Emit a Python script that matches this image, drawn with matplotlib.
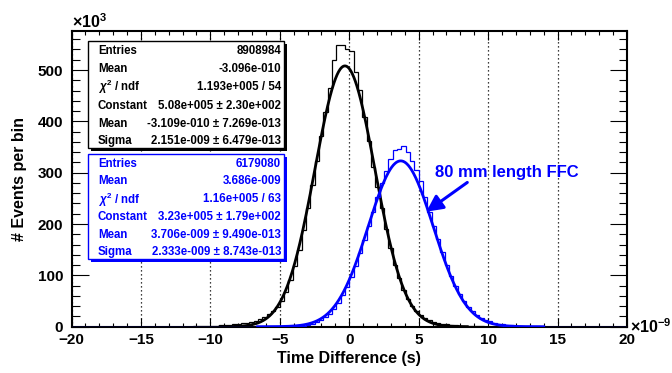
import numpy as np
import matplotlib
matplotlib.use("Agg")
import matplotlib.pyplot as plt
from matplotlib.patches import Rectangle
from matplotlib.ticker import MultipleLocator

plt.rcParams['font.family'] = ['Liberation Sans', 'DejaVu Sans']
plt.rcParams['font.weight'] = 'bold'
plt.rcParams['mathtext.fontset'] = 'custom'
plt.rcParams['mathtext.rm'] = 'Liberation Sans:bold'
plt.rcParams['mathtext.it'] = 'Liberation Sans:italic'
plt.rcParams['mathtext.bf'] = 'Liberation Sans:bold'

# ---------------- data (x in 1e-9 s, counts in 1e3) ----------------
x_range = (-20.0, 20.0)
n_bins = 128

black_start_bin = 28
black_counts = [0.5, 0.7, 1.0, 1.3, 1.7, 2.1, 2.6, 3.2, 3.9, 4.6,
                5.4, 6.5, 7.9, 9.9, 12.0, 15.2, 18.7, 24.0, 30.7, 39.0,
                51.0, 68.0, 90.0, 118.0, 150.0, 189.0, 231.0, 276.0, 323.0, 371.0,
                418.0, 464.0, 520.0, 549.0, 549.0, 540.0, 538.0, 496.0, 462.0, 408.0,
                362.0, 312.0, 272.0, 232.0, 191.0, 154.0, 121.0, 94.0, 72.0, 54.0,
                40.0, 30.0, 22.0, 16.5, 12.5, 9.5, 7.5, 5.8, 4.6, 3.6,
                2.8, 2.2, 1.7, 1.3, 1.0, 0.7, 0.5, 0.3]

blue_start_bin = 50
blue_counts = [0.6, 0.9, 1.4, 2.2, 3.5, 5.5, 8.5, 12.5, 18.0, 25.5,
               35.0, 47.0, 61.0, 78.0, 97.0, 119.0, 143.0, 169.0, 196.0, 224.0,
               252.0, 279.0, 304.0, 326.0, 344.0, 346.0, 352.0, 340.0, 322.0, 305.0,
               284.0, 252.0, 224.0, 197.0, 170.0, 146.0, 121.0, 99.0, 80.0, 64.0,
               50.0, 39.0, 30.0, 23.0, 17.5, 13.5, 10.5, 8.0, 6.2, 4.8,
               3.7, 2.8, 2.1, 1.6, 1.2, 0.9, 0.6, 0.4]

black_fit_constant, black_fit_mean, black_fit_sigma = 508.0, -0.3109, 2.151
black_fit_range = (-9.3, 8.5)
blue_fit_constant, blue_fit_mean, blue_fit_sigma = 323.0, 3.706, 2.333
blue_fit_range = (-6.6, 14.0)

stat_labels = ["Entries", "Mean", r"$\chi^{2}$ / ndf", "Constant", "Mean", "Sigma"]
black_stat_values = ["8908984", "-3.096e-010", "1.193e+005 / 54",
                     "5.08e+005 \u00b1 2.30e+002", "-3.109e-010 \u00b1 7.269e-013",
                     "2.151e-009 \u00b1 6.479e-013"]
blue_stat_values = ["6179080", "3.686e-009", "1.16e+005 / 63",
                    "3.23e+005 \u00b1 1.79e+002", "3.706e-009 \u00b1 9.490e-013",
                    "2.333e-009 \u00b1 8.743e-013"]

x_ticks = [-20, -15, -10, -5, 0, 5, 10, 15, 20]
y_ticks = [0, 100, 200, 300, 400, 500]
annotation_text = "80 mm length FFC"

# ---------------- figure ----------------
W, H = 672, 373
fig = plt.figure(figsize=(W / 100, H / 100), dpi=100)
L, R, T, B = 71.5, 627.0, 31.0, 326.7
ax = fig.add_axes([L / W, 1 - B / H, (R - L) / W, (B - T) / H])

def fx(px):
    return px / W

def fy(py):
    return 1 - py / H

edges = np.linspace(x_range[0], x_range[1], n_bins + 1)
bc = np.zeros(n_bins)
bc[black_start_bin:black_start_bin + len(black_counts)] = black_counts
uc = np.zeros(n_bins)
uc[blue_start_bin:blue_start_bin + len(blue_counts)] = blue_counts

BLUE = (0, 0, 1)

ax.stairs(bc, edges, color='black', lw=0.9, zorder=3)
xf = np.linspace(*black_fit_range, 500)
ax.plot(xf, black_fit_constant * np.exp(-0.5 * ((xf - black_fit_mean) / black_fit_sigma) ** 2),
        color='black', lw=2.0, zorder=4)
ax.stairs(uc, edges, color=BLUE, lw=0.9, zorder=5)
xf = np.linspace(*blue_fit_range, 500)
ax.plot(xf, blue_fit_constant * np.exp(-0.5 * ((xf - blue_fit_mean) / blue_fit_sigma) ** 2),
        color=BLUE, lw=2.0, zorder=6)

ax.set_xlim(*x_range)
ax.set_ylim(0, 576)
ax.set_xticks(x_ticks)
ax.set_yticks(y_ticks)
ax.xaxis.set_minor_locator(MultipleLocator(1))
ax.yaxis.set_minor_locator(MultipleLocator(20))
ax.grid(axis='x', which='major', color='black', ls=(0, (1, 2.2)), lw=0.9)
ax.set_axisbelow(True)
ax.tick_params(which='both', direction='in', top=True, right=True, width=0.8,
               labelsize=11)
ax.xaxis.set_tick_params(which='major', length=6.5, pad=4.5)
ax.xaxis.set_tick_params(which='minor', length=3.2)
ax.yaxis.set_tick_params(which='major', length=12, pad=6)
ax.yaxis.set_tick_params(which='minor', length=6)
for lab in ax.get_xticklabels() + ax.get_yticklabels():
    lab.set_fontweight('bold')
for s in ax.spines.values():
    s.set_linewidth(1.5)

# annotation
ax.text(6.2, 301, annotation_text, color=BLUE, fontsize=12, fontweight='bold',
        ha='left', va='center', zorder=7)
ax.annotate('', xy=(5.55, 224), xytext=(8.5, 281),
            arrowprops=dict(arrowstyle='-|>,head_length=0.7,head_width=0.35',
                            color=BLUE, lw=2.2, shrinkA=0, shrinkB=0,
                            mutation_scale=14), zorder=7)

# axis labels
fig.text(fx(20), fy(178.9), '# Events per bin', rotation=90, ha='center', va='center',
         fontsize=11.5, fontweight='bold')
fig.text(fx(349.2), fy(359), 'Time Difference (s)', ha='center', va='center',
         fontsize=11.5, fontweight='bold')
fig.text(fx(72), fy(28), '\u00d710$^{3}$', ha='left', va='baseline', fontsize=11.5,
         fontweight='bold')
fig.text(fx(630), fy(333), '\u00d710$^{-9}$', ha='left', va='baseline', fontsize=11.5,
         fontweight='bold')

# stats boxes
def stat_box(x0, y0, x1, y1, color, values, row_y):
    sh = Rectangle((fx(x0 + 3), fy(y1 + 3)), (x1 - x0) / W, (y1 - y0) / H,
                   transform=fig.transFigure, facecolor=color, edgecolor=color, lw=0)
    fig.add_artist(sh)
    bx = Rectangle((fx(x0), fy(y1)), (x1 - x0) / W, (y1 - y0) / H,
                   transform=fig.transFigure, facecolor='white', edgecolor=color, lw=1.0)
    fig.add_artist(bx)
    for lab, val, yy in zip(stat_labels, values, row_y):
        fig.text(fx(x0 + 10), fy(yy), lab, color=color, fontsize=8.3, fontweight='bold',
                 ha='left', va='center')
        fig.text(fx(x1 - 3), fy(yy), val, color=color, fontsize=8.3, fontweight='bold',
                 ha='right', va='center')

stat_box(88, 41, 284, 148, 'black', black_stat_values,
         [51, 69.3, 87.3, 105.7, 123.7, 141])
stat_box(88, 154, 284, 259, BLUE, blue_stat_values,
         [164, 181.5, 199.5, 217.3, 235.3, 252.3])

fig.savefig('out.png', dpi=100)
